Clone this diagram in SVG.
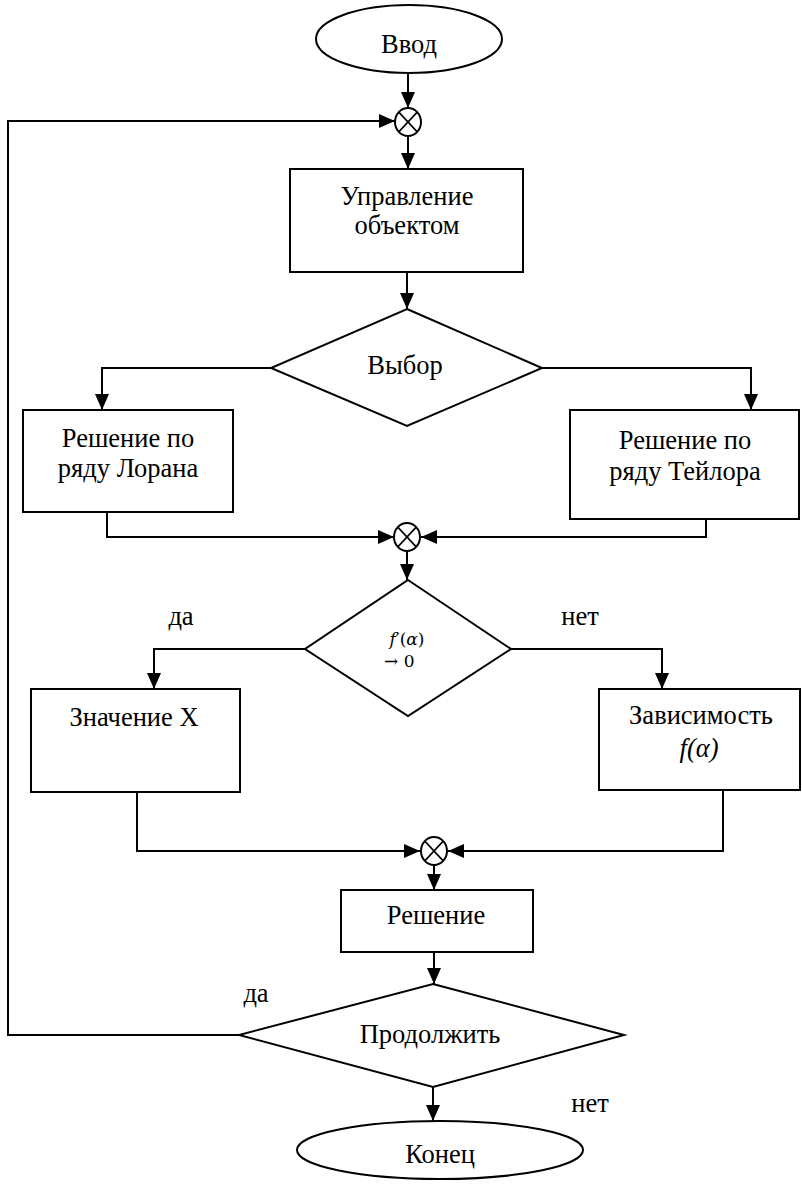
<svg xmlns="http://www.w3.org/2000/svg" width="802" height="1184" viewBox="0 0 802 1184" font-family="'Liberation Serif', 'Times New Roman', 'DejaVu Serif', serif">
<defs>
<marker id="arr" viewBox="0 0 16 14" markerWidth="16" markerHeight="14" refX="16" refY="7" orient="auto" markerUnits="userSpaceOnUse">
<path d="M0,0 L16,7 L0,14 z" fill="#000"/>
</marker>
</defs>
<style>
.s{fill:#fff;stroke:#000;stroke-width:2}
.c{fill:none;stroke:#000;stroke-width:2;marker-end:url(#arr)}
.x{stroke:#000;stroke-width:1.6}
.t{font-size:26.5px;fill:#000;text-anchor:middle}
.m{font-size:17px;fill:#000}
</style>
<rect width="802" height="1184" fill="#fff"/>
<g id="connectors">
<path class="c" d="M408,73 L408,108"/>
<path class="c" d="M408,136 L408,169"/>
<path class="c" d="M407,272 L407,309"/>
<path class="c" d="M271,368 L102,368 L102,410"/>
<path class="c" d="M542,368 L751,368 L751,410"/>
<path class="c" d="M107,512 L107,537 L394,537"/>
<path class="c" d="M706,519 L706,537 L421,537"/>
<path class="c" d="M407,551 L407,580"/>
<path class="c" d="M305,649 L154,649 L154,689"/>
<path class="c" d="M511,649 L662,649 L662,689"/>
<path class="c" d="M137,792 L137,851 L420,851"/>
<path class="c" d="M723,790 L723,851 L448,851"/>
<path class="c" d="M434,865 L434,890"/>
<path class="c" d="M434,952 L434,984"/>
<path class="c" d="M433,1087 L433,1121"/>
<path class="c" d="M239,1035 L8,1035 L8,121 L395,121"/>
</g>
<g id="start">
<ellipse class="s" cx="409" cy="39" rx="93" ry="34"/>
<text class="t" x="409" y="53" font-family="Liberation Serif">Ввод</text>
</g>
<g id="junction1">
<ellipse class="s" cx="408" cy="122" rx="13" ry="14"/>
<line class="x" x1="398.8" y1="112.1" x2="417.2" y2="131.9"/>
<line class="x" x1="417.2" y1="112.1" x2="398.8" y2="131.9"/>
</g>
<g id="control">
<rect class="s" x="290" y="169" width="233" height="103"/>
<text class="t" x="407" y="205" font-family="Liberation Serif">Управление</text>
<text class="t" x="407" y="234" font-family="Liberation Serif">объектом</text>
</g>
<g id="choice">
<polygon class="s" points="407,309 542,368 407,426 271,368"/>
<text class="t" x="405" y="374" font-family="Liberation Serif">Выбор</text>
</g>
<g id="laurent">
<rect class="s" x="23" y="410" width="210" height="102"/>
<text class="t" x="128" y="447" font-family="Liberation Serif">Решение по</text>
<text class="t" x="128" y="477" font-family="Liberation Serif">ряду Лорана</text>
</g>
<g id="taylor">
<rect class="s" x="570" y="410" width="229" height="109"/>
<text class="t" x="685" y="449" font-family="Liberation Serif">Решение по</text>
<text class="t" x="685" y="480" font-family="Liberation Serif">ряду Тейлора</text>
</g>
<g id="junction2">
<ellipse class="s" cx="407" cy="537" rx="13" ry="14"/>
<line class="x" x1="397.8" y1="527.1" x2="416.2" y2="546.9"/>
<line class="x" x1="416.2" y1="527.1" x2="397.8" y2="546.9"/>
</g>
<g id="derivative">
<polygon class="s" points="408,580 511,649 408,716 305,649"/>
<text class="m" x="407" y="645" text-anchor="middle" font-family="DejaVu Serif"><tspan font-style="italic">f</tspan>′(<tspan font-style="italic">α</tspan>)</text>
<text class="m" x="384" y="667" font-family="DejaVu Serif">→ 0</text>
</g>
<g id="label-da-1"><text class="t" x="181" y="625" font-family="Liberation Serif">да</text></g>
<g id="label-net-1"><text class="t" x="580" y="625" font-family="Liberation Serif">нет</text></g>
<g id="valueX">
<rect class="s" x="31" y="689" width="209" height="103"/>
<text class="t" x="134" y="726" font-family="Liberation Serif">Значение X</text>
</g>
<g id="dependence">
<rect class="s" x="599" y="689" width="201" height="101"/>
<text class="t" x="701" y="724" font-family="Liberation Serif">Зависимость</text>
<text class="t" x="699" y="757" font-style="italic" font-family="Liberation Serif">f(α)</text>
</g>
<g id="junction3">
<ellipse class="s" cx="434" cy="851" rx="13" ry="14"/>
<line class="x" x1="424.8" y1="841.1" x2="443.2" y2="860.9"/>
<line class="x" x1="443.2" y1="841.1" x2="424.8" y2="860.9"/>
</g>
<g id="solution">
<rect class="s" x="341" y="890" width="192" height="62"/>
<text class="t" x="436" y="924" font-family="Liberation Serif">Решение</text>
</g>
<g id="continue">
<polygon class="s" points="433,984 624,1035 433,1087 239,1035"/>
<text class="t" x="430" y="1043" font-family="Liberation Serif">Продолжить</text>
</g>
<g id="label-da-2"><text class="t" x="256" y="1002" font-family="Liberation Serif">да</text></g>
<g id="label-net-2"><text class="t" x="590" y="1112" font-family="Liberation Serif">нет</text></g>
<g id="end">
<ellipse class="s" cx="440" cy="1150" rx="143" ry="29"/>
<text class="t" x="440" y="1163" font-family="Liberation Serif">Конец</text>
</g>
</svg>
